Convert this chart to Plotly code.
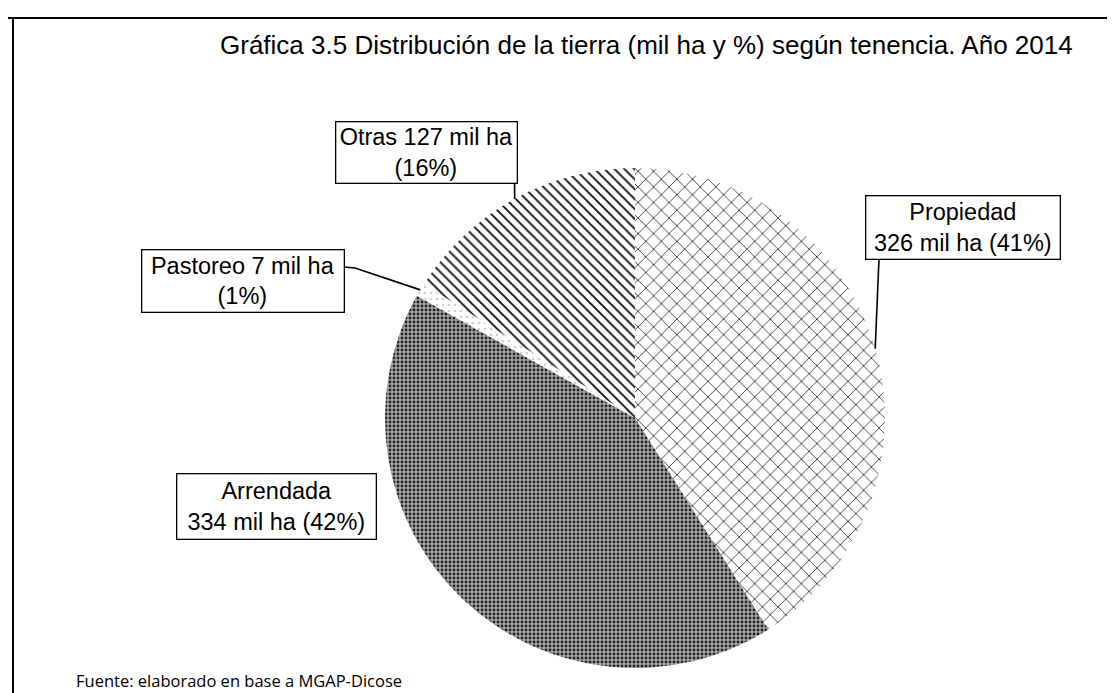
import math
import plotly.graph_objects as go

# ---------------- data ----------------
categories = ["Propiedad", "Arrendada", "Pastoreo", "Otras"]
values_mil_ha = [326, 334, 7, 127]
percents = [41, 42, 1, 16]
# where the line break goes in each label box
label_templates = [
    "{c}<br>{v} mil ha ({p}%)",
    "{c}<br>{v} mil ha ({p}%)",
    "{c} {v} mil ha<br>({p}%)",
    "{c} {v} mil ha<br>({p}%)",
]
title_text = "Gráfica 3.5 Distribución de la tierra (mil ha y %) según tenencia. Año 2014"
source_text = "Fuente: elaborado en base a MGAP-Dicose"

# ---------------- layout geometry (pixels) ----------------
W, H = 1115, 693
CX, CY, R = 627, 410, 250


def px(x):
    return x / W


def py(y):
    return 1 - y / H


fig = go.Figure()
fig.add_trace(go.Pie(
    labels=categories,
    values=values_mil_ha,
    sort=False,
    direction="clockwise",
    rotation=0,
    textinfo="none",
    hoverinfo="label+value+percent",
    showlegend=False,
    domain=dict(x=[px(CX - R), px(CX + R)], y=[py(CY + R), py(CY - R)]),
    marker=dict(
        colors=["white", "#9a9a9a", "white", "white"],
        line=dict(width=0, color="white"),
        pattern=dict(
            shape=["x", ".", ".", "\\"],
            fgcolor=["#111111", "#222222", "#d0d0d0", "#111111"],
            bgcolor=["white", "#a6a6a6", "white", "white"],
            size=[11, 4, 6, 7],
            solidity=[0.13, 0.4, 0.15, 0.27],
            fillmode="replace",
        ),
    ),
))

# ---------------- label boxes ----------------
# box centres / sizes in pixels
box_centres = [(954.5, 219), (268, 498), (234.5, 272.5), (418, 144)]
box_sizes = [(195, 64), (200, 66), (203, 63), (182, 62)]

label_font = dict(family="Liberation Sans, Arial, sans-serif", size=23.5, color="black")
annotations = []
for i, cat in enumerate(categories):
    txt = label_templates[i].format(c=cat, v=values_mil_ha[i], p=percents[i])
    (bx, by), (bw, bh) = box_centres[i], box_sizes[i]
    annotations.append(dict(
        x=px(bx), y=py(by), xref="paper", yref="paper",
        xanchor="center", yanchor="middle",
        text=txt, showarrow=False, align="center",
        font=label_font,
        bordercolor="black", borderwidth=1.3, borderpad=1, bgcolor="white",
        width=bw - 4, height=bh - 4,
    ))

annotations.append(dict(
    x=px(638), y=py(37), xref="paper", yref="paper",
    xanchor="center", yanchor="middle", showarrow=False,
    text=title_text,
    font=dict(family="Liberation Sans, Arial, sans-serif", size=26, color="black"),
))
annotations.append(dict(
    x=px(66), y=py(672), xref="paper", yref="paper",
    xanchor="left", yanchor="middle", showarrow=False,
    text=source_text,
    font=dict(family="Open Sans, Noto Sans, sans-serif", size=16.5, color="black"),
))

# ---------------- leader lines (tips computed from slice mid-angles) ----------------
total = sum(values_mil_ha)
tips = []
cum = 0
for v in values_mil_ha:
    mid = (cum + v / 2) / total
    th = 2 * math.pi * mid
    tips.append((CX + R * math.sin(th), CY - R * math.cos(th)))
    cum += v

shapes = []
line_style = dict(color="black", width=1.6)
# Propiedad: from slice edge up to box bottom
tx, ty = tips[0]
shapes.append(dict(type="line", xref="paper", yref="paper",
                   x0=px(tx), y0=py(ty), x1=px(871), y1=py(251), line=line_style))
# Pastoreo: elbow to box right side
tx, ty = tips[2]
shapes.append(dict(type="path", xref="paper", yref="paper",
                   path=f"M {px(tx)} {py(ty)} L {px(347)} {py(260)} L {px(336)} {py(259)}",
                   line=line_style))
# Otras: vertical to box bottom
tx, ty = tips[3]
shapes.append(dict(type="line", xref="paper", yref="paper",
                   x0=px(tx), y0=py(ty), x1=px(tx), y1=py(175), line=line_style))

# frame (top and left edges)
frame = dict(color="black", width=2)
shapes.append(dict(type="line", xref="paper", yref="paper",
                   x0=0, y0=py(10), x1=1, y1=py(10), line=frame))
shapes.append(dict(type="line", xref="paper", yref="paper",
                   x0=px(5), y0=py(10), x1=px(5), y1=0, line=frame))

fig.update_layout(
    width=W, height=H,
    margin=dict(l=0, r=0, t=0, b=0),
    paper_bgcolor="white", plot_bgcolor="white",
    annotations=annotations,
    shapes=shapes,
)

fig.write_html("out.html")
